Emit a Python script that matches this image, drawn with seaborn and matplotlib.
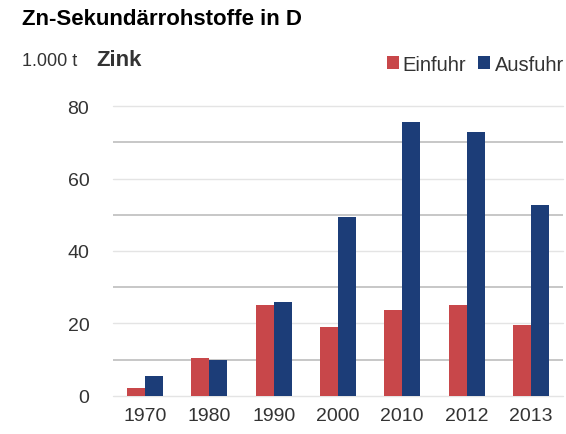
import pandas as pd
import numpy as np
import matplotlib
matplotlib.use('Agg')
import matplotlib.pyplot as plt
import seaborn as sns
from matplotlib.ticker import MultipleLocator

# Werte in 1.000 t
jahre = ['1970', '1980', '1990', '2000', '2010', '2012', '2013']
einfuhr = [2.1, 10.6, 25.0, 19.0, 23.6, 25.2, 19.6]
ausfuhr = [5.6, 9.9, 26.0, 49.3, 75.5, 72.7, 52.7]

serien = ['Einfuhr', 'Ausfuhr']
farben = ['#C8474A', '#1C3D78']

df = pd.DataFrame({
    'Jahr': jahre * 2,
    'Menge': einfuhr + ausfuhr,
    'Richtung': [serien[0]] * len(jahre) + [serien[1]] * len(jahre),
})

sns.set_style('white')
plt.rcParams['font.family'] = ['Liberation Sans', 'DejaVu Sans']

fig = plt.figure(figsize=(5.66, 4.35), dpi=100)
ax = fig.add_axes([0.1996, 0.0874, 0.795, 0.6666])

sns.barplot(data=df, x='Jahr', y='Menge', hue='Richtung', palette=farben,
            width=0.56, gap=0, saturation=1, linewidth=0, ax=ax, legend=True)

ax.set_ylim(0, 80)
ax.set_xlim(-0.5, 6.5)
ax.yaxis.set_major_locator(MultipleLocator(20))
ax.yaxis.set_minor_locator(MultipleLocator(10))
ax.grid(which='major', axis='y', color='#e4e4e4', linewidth=1.0)
ax.grid(which='minor', axis='y', color='#bdbdbd', linewidth=1.2)
ax.set_axisbelow(True)
for s in ax.spines.values():
    s.set_visible(False)
ax.set_xlabel('')
ax.set_ylabel('')
ax.tick_params(axis='both', which='both', length=0, labelsize=14, colors='#333333')
ax.tick_params(axis='y', pad=17)
ax.tick_params(axis='x', pad=8)
for gl in ax.get_ygridlines():
    gl.set_clip_on(False)

handles, labels = ax.get_legend_handles_labels()
ax.legend(handles, labels, ncol=2, frameon=False, loc='center right',
          bbox_to_anchor=(0.996, 0.85), bbox_transform=fig.transFigure,
          handlelength=0.6, handleheight=0.6, handletextpad=0.2,
          columnspacing=0.6, prop={'size': 14.5}, labelcolor='#333333',
          borderaxespad=0, borderpad=0)

fig.text(0.039, 0.955, 'Zn-Sekundärrohstoffe in D', fontsize=16,
         fontweight='bold', color='black', va='center', ha='left')
fig.text(0.039, 0.858, '1.000 t', fontsize=13, color='#333333',
         va='center', ha='left')
fig.text(0.17, 0.862, 'Zink', fontsize=16, fontweight='bold',
         color='#333333', va='center', ha='left')

fig.savefig('out.png', dpi=100, facecolor='white')
